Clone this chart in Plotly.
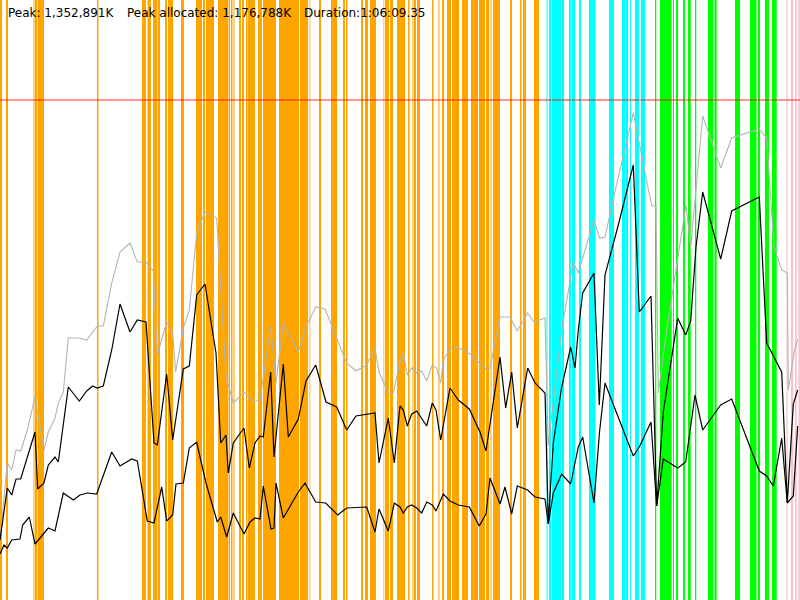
import plotly.graph_objects as go

# ---- data (memory units, time axis in sample units) ----
peak_x = [0, 7.3, 11.7, 16, 20.7, 27.3, 35, 44, 48.3, 55, 58.3, 63.3, 68.3, 79.3, 86.7, 97.3, 103.3, 111.7, 120, 130,
          137.3, 146, 153.3, 157.3, 166.7, 172.7, 175.7, 183.3, 189.3, 196.7, 205, 216.7, 226, 233.3, 244, 254, 260, 270.7,
          276, 283.3, 298.3, 306, 315.7, 325, 346.7, 356, 366.7, 375, 379, 388.3, 393.3, 400, 403.3, 407.3, 411.7, 416.7,
          421.7, 426.7, 432.3, 436.7, 440.7, 443.3, 450, 456.7, 470, 480, 486, 490, 500, 510, 517.3, 527.7, 534, 545, 548.3,
          561.7, 573.3, 578.3, 594, 599.5, 605, 616.7, 633.3, 651.7, 656, 658.3, 666.7, 686, 690.7, 702.7, 720.7, 731.7,
          759.3, 766.7, 774, 781.7, 787.3, 788.3, 794, 797.7]
peak_y = [60, 137, 130, 150, 149, 170, 203, 150, 168, 182, 197, 208, 262, 262, 260, 274, 274, 317, 348, 357,
          338, 338, 329, 245, 278, 267, 228, 272, 290, 367, 388, 382, 223, 197, 208, 198, 200, 273,
          217, 277, 248, 273, 293, 291, 237, 229, 235, 252, 228, 207, 207, 238, 247, 225, 232, 227,
          229, 219, 235, 232, 217, 240, 251, 253, 246, 237, 231, 232, 283, 283, 269, 287, 278, 282, 155,
          270, 338, 327, 380, 362, 363, 416, 487, 394, 394, 207, 270, 395, 353, 484, 432, 462,
          471, 462, 353, 330, 327, 210, 247, 261]

used_x = [0, 7.3, 11.7, 16, 20.7, 27.3, 35, 37.7, 44, 48.3, 55, 58.3, 63.3, 68.3, 79.3, 86.7, 92.7, 97.3, 103.3, 111.7,
          120, 130, 137.3, 146, 154, 157.3, 166.7, 172.7, 183.3, 189.3, 196.7, 205, 216, 220.7, 226, 228.3, 233.3, 244,
          249.3, 255, 260, 263.3, 270.7, 274, 283.3, 288.3, 298.3, 306, 315.7, 326, 336.7, 346.7, 356, 375, 379, 388.3,
          394.3, 400, 403.3, 407.3, 411.7, 416.7, 426.7, 432.3, 436, 440.7, 450, 458.3, 469.3, 480, 486, 500, 505.7,
          511.7, 517.3, 527.7, 535, 545, 548.3, 553.3, 561.7, 570.7, 575, 578.3, 582.7, 594, 599.3, 605, 618.3, 633.3,
          639.3, 651, 656.7, 663.3, 677.7, 685.7, 690.7, 696, 702.7, 720.7, 731.7, 759.3, 766.7, 781.7, 787.3, 793.3,
          797.7]
used_y = [60, 112, 105, 121, 121, 143, 168, 111, 117, 135, 143, 138, 173, 213, 199, 209, 214, 212, 214, 250,
          296, 268, 280, 278, 157, 155, 226, 160, 231, 234, 305, 316, 247, 157, 165, 127, 157, 172,
          132, 157, 164, 163, 228, 143, 236, 163, 181, 219, 235, 198, 193, 170, 184, 187, 137, 182,
          137, 194, 190, 174, 186, 189, 174, 197, 190, 160, 212, 200, 191, 168, 149, 243, 192,
          228, 172, 232, 217, 207, 77, 157, 213, 253, 232, 270, 307, 327, 195, 325, 375, 435,
          288, 304, 94, 188, 282, 265, 279, 353, 408, 341, 389, 403, 257, 228, 97, 196,
          210]

live_x = [0, 4, 7.3, 11.7, 20, 22.7, 29.3, 35, 48.3, 55, 63.3, 73.3, 80, 87.3, 96.7, 111.7, 120, 131.7, 137.3, 147.3,
          154, 161.7, 166.7, 172.7, 176, 183.3, 189.3, 196.7, 200, 206, 217.3, 220.7, 226.7, 233.3, 244, 250, 255, 260,
          263.3, 271, 274, 276, 283.3, 298.3, 305, 315.7, 325.7, 337.7, 346.7, 366.7, 375, 379, 388.3, 394.3, 400, 403.3,
          407.3, 411.7, 416.7, 421.7, 426.7, 432.3, 436, 443.3, 450, 458.3, 469.3, 479.3, 486, 490, 500, 505, 511.7,
          517.3, 527.7, 535, 545, 548.3, 553.3, 561.7, 570.7, 578.3, 582.7, 594, 599.5, 605, 633.3, 639.3, 651, 656.7,
          663.3, 677.7, 685.7, 695, 702.7, 720.7, 731.7, 759.3, 766.7, 773.3, 781.7, 787.3, 793.3, 797.7]
live_y = [46, 55, 52, 60, 61, 75, 83, 56, 72, 69, 107, 100, 105, 107, 106, 148, 134, 141, 139, 79,
          77, 113, 79, 85, 116, 117, 152, 158, 143, 117, 78, 83, 63, 87, 66, 78, 82, 81,
          114, 71, 72, 117, 82, 108, 117, 98, 97, 85, 92, 93, 68, 91, 69, 97, 93, 87,
          93, 95, 92, 87, 98, 95, 89, 106, 99, 95, 93, 74, 86, 122, 96, 113, 86,
          114, 110, 103, 101, 76, 107, 126, 116, 153, 163, 97, 168, 217, 144, 153, 178, 94,
          141, 132, 138, 205, 170, 195, 201, 129, 124, 114, 162, 97, 104, 174]

limit_value = 500

# phase bands: start, end, phase kind
band_start = [0, 6, 33, 35, 37, 38, 97, 142, 147.5, 153, 157.5, 165, 168, 181, 196, 203, 206, 218, 228.5, 231,
              233, 239, 242, 246, 248, 258, 263, 279, 300, 309, 319, 331, 343, 346, 361, 365, 370, 383, 385,
              390, 397, 408, 412, 414, 417, 432, 438, 442, 447, 452, 462, 471, 479, 486, 490, 493, 510, 520,
              523, 534,
              546.5, 549, 552, 562, 569, 572, 579, 589, 609, 622, 625.5, 630, 635, 641,
              655, 660, 673, 676, 683, 688, 695, 708, 714.5, 735, 750, 758, 765, 772,
              786.5, 791, 795, 798.5]
band_end = [2, 8, 35, 37, 38, 44, 98.5, 146, 151, 157, 160, 167, 173, 184, 202, 205, 214, 228, 230, 232.5,
            235, 241, 244, 247.5, 255, 262, 276, 299, 308, 310.5, 321, 337, 345, 347.5, 363, 368, 376, 384.5, 389,
            393, 405, 409.5, 414, 416, 420, 433.5, 440, 444, 451, 459, 468, 478, 485, 489, 492, 500, 512, 521.5,
            526, 539,
            547.5, 551, 561.5, 564, 571, 575, 581, 595.5, 614, 625, 628, 631, 639, 645,
            656.3, 671.7, 674, 678, 685, 690.7, 696.3, 713.3, 716.7, 740, 756.5, 760, 769, 776.7,
            787.7, 793.3, 796.7, 800]
band_kind = ["alloc", "alloc", "alloc_light", "alloc", "alloc_light", "alloc", "alloc", "alloc", "alloc", "alloc",
             "alloc", "alloc", "alloc", "alloc", "alloc", "alloc", "alloc", "alloc", "alloc", "alloc",
             "alloc_light", "alloc", "alloc", "alloc", "alloc", "alloc", "alloc", "alloc", "alloc", "alloc_light",
             "alloc", "alloc", "alloc", "alloc", "alloc", "alloc", "alloc", "alloc_light", "alloc",
             "alloc", "alloc", "alloc", "alloc_light", "alloc", "alloc", "alloc", "alloc_light", "alloc", "alloc",
             "alloc", "alloc", "alloc", "alloc", "alloc", "alloc_light", "alloc", "alloc", "alloc",
             "alloc", "alloc",
             "io", "io", "io", "io", "io", "io", "io", "io", "io", "io", "io", "io", "io", "io",
             "gc", "gc", "gc", "gc", "gc", "gc", "gc", "gc", "gc", "gc", "gc", "gc", "gc", "gc",
             "idle", "idle", "idle", "idle"]

kind_color = {
    "alloc": "#FFA500",
    "alloc_light": "rgba(255,165,0,0.5)",
    "io": "#00FFFF",
    "gc": "#00FF00",
    "idle": "#FFC0CB",
}

header_texts = ["Peak: 1,352,891K", "Peak allocated: 1,176,788K", "Duration:1:06:09.35"]
header_pos = [5.5, 125.3, 301.5]

fig = go.Figure()

fig.add_trace(go.Scatter(x=peak_x, y=peak_y, mode="lines",
                         line=dict(color="#B4B4B4", width=1.1), hoverinfo="skip", showlegend=False))
fig.add_trace(go.Scatter(x=used_x, y=used_y, mode="lines",
                         line=dict(color="#000000", width=1.2), hoverinfo="skip", showlegend=False))
fig.add_trace(go.Scatter(x=live_x, y=live_y, mode="lines",
                         line=dict(color="#000000", width=1.2), hoverinfo="skip", showlegend=False))

shapes = []
for s, e, k in zip(band_start, band_end, band_kind):
    shapes.append(dict(type="rect", xref="x", yref="paper", x0=s, x1=e, y0=0, y1=1,
                       fillcolor=kind_color[k], line=dict(width=0), layer="below"))
shapes.append(dict(type="line", xref="paper", yref="y", x0=0, x1=1, y0=limit_value, y1=limit_value,
                   line=dict(color="rgba(255,0,0,0.55)", width=1.5), layer="above"))

annotations = []
for t, p in zip(header_texts, header_pos):
    annotations.append(dict(text=t, x=p, xref="x", y=1 - 13 / 600, yref="paper",
                            xanchor="left", yanchor="middle", showarrow=False,
                            font=dict(family="DejaVu Sans", size=12, color="black")))

fig.update_layout(
    width=800, height=600,
    margin=dict(l=0, r=0, t=0, b=0),
    paper_bgcolor="white", plot_bgcolor="white",
    xaxis=dict(range=[0, 800], visible=False, fixedrange=True),
    yaxis=dict(range=[0, 600], visible=False, fixedrange=True),
    shapes=shapes, annotations=annotations,
    showlegend=False,
)

fig.write_html("out.html", config={"displayModeBar": False},
               post_script="document.body.style.margin='0px';document.body.style.overflow='hidden';")
